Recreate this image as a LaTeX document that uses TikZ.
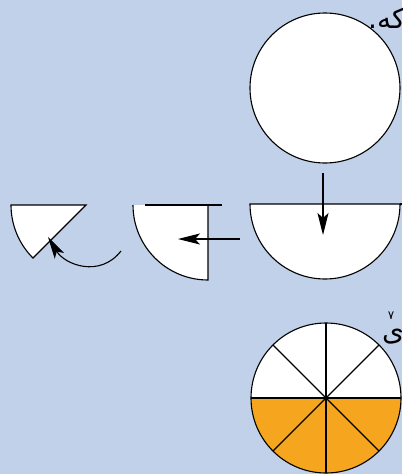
\documentclass[tikz,border=0pt]{standalone}
\usepackage{fontspec}
\newfontfamily\arabicfont[Script=Arabic]{DejaVu Sans}
\TeXXeTstate=1
\usetikzlibrary{arrows.meta}
\definecolor{pagebg}{RGB}{194,209,234}
\definecolor{halforange}{RGB}{246,166,30}

\begin{document}
\begin{tikzpicture}[
  x=1pt, y=-1pt,
  piece/.style={draw, line width=1.1pt, fill=white},
  edge/.style={line width=1.1pt},
  arrow/.style={-{Stealth[length=22pt, width=11pt, inset=5pt]}, line width=1.1pt},
  persiantext/.style={inner sep=0pt, font=\arabicfont\fontsize{28}{30}\selectfont}
]
\useasboundingbox[fill=pagebg] (0,0) rectangle (402,474);
% whole circle
\coordinate (wholec) at (325,88);
\draw[piece] (wholec) circle[radius=75];
% half
\coordinate (halfc) at (325,204);
\draw[piece] (400,204) arc[start angle=0, end angle=180, radius=75] -- cycle;
\draw[edge] (400,204) -- (402,204);
% quarter
\coordinate (quarterc) at (208,205);
\fill[white] (quarterc) -- (208,280) arc[start angle=90, end angle=180, radius=75] -- cycle;
\draw[edge] (133,205) arc[start angle=180, end angle=90, radius=75] -- (quarterc);
\draw[edge] (145,205) -- (222,205);
% eighth
\coordinate (eighthc) at (86,205);
\draw[piece] (eighthc) -- (11,205) arc[start angle=180, end angle=135, radius=75] -- cycle;
% arrows
\coordinate (downtail) at (323,173);
\coordinate (downtip) at (323,235);
\coordinate (lefttail) at (240,239);
\coordinate (lefttip) at (178,239);
\coordinate (turntail) at (121,251);
\coordinate (turntip) at (48,237);
\draw[arrow] (downtail) -- (downtip);
\draw[arrow] (lefttail) -- (lefttip);
\draw[arrow] (turntail) .. controls (100,278) and (65,265) .. (turntip);
% circle in eighths, lower half coloured
\coordinate (splitc) at (326,398);
\fill[white] (splitc) circle[radius=75];
\fill[halforange] (251,398) arc[start angle=180, end angle=0, radius=75] -- cycle;
\draw[edge] (splitc) circle[radius=75];
\foreach \a in {0,45,90,135}
  \draw[edge, shift={(326,398)}] (\a:75) -- (\a+180:75);
% text pieces
\node[persiantext, anchor=base west] (kehword) at (368,28) {\beginR که.\endR};
\node[persiantext, anchor=base west] (yehword) at (382,340) {\beginR ی\endR};
\node[persiantext, font=\arabicfont\fontsize{12}{13}\selectfont, anchor=south] (sevenmark) at (391,320) {۷};
\end{tikzpicture}
\end{document}
